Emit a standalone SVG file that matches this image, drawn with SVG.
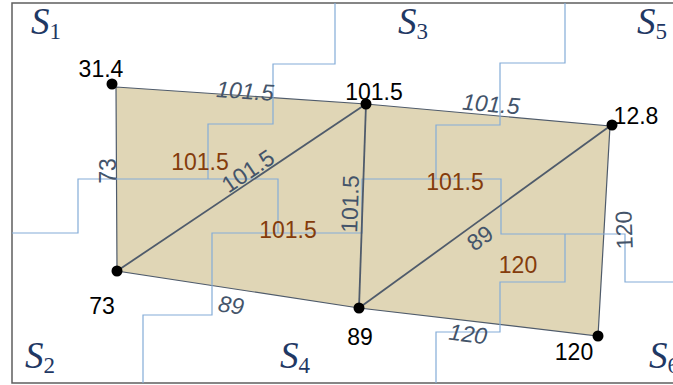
<svg xmlns="http://www.w3.org/2000/svg" width="673" height="385" viewBox="0 0 673 385">
<style>
.frame{fill:none;stroke:#5f5f5f;stroke-width:1.5}
.cell{fill:none;stroke:#84acd8;stroke-width:1.2}
.poly{fill:#e0d6b6;stroke:#4f5b6b;stroke-width:1.2}
.diag{fill:none;stroke:#4f5b6b;stroke-width:1.8}
.dot{fill:#000}
.vl{font-family:"Liberation Sans",Arial,sans-serif;font-size:23px;fill:#000;text-anchor:middle}
.el{font-family:"Liberation Sans",Arial,sans-serif;font-size:23px;fill:#44546a;text-anchor:middle}
.it{font-style:italic}
.bl{font-family:"Liberation Sans",Arial,sans-serif;font-size:23px;fill:#843c0c;text-anchor:middle}
.s{font-family:"Liberation Serif","Times New Roman",serif;font-style:italic;font-size:37px;fill:#1f3864}
.sub{font-family:"Liberation Serif","Times New Roman",serif;font-style:normal;font-size:23px;fill:#1f3864}
</style>
<rect x="0" y="0" width="673" height="385" fill="#fff"/>
<path class="frame" d="M673,3 H12 V383 H673"/>
<g id="mesh">
<polygon class="poly" points="116,87 366,104 610,126 598,336 359,308 117,271"/>
</g>
<g id="cells">
<path class="cell" d="M335,3 V64 H273 V124 H208 V179"/>
<path class="cell" d="M12,233 H78 V179 H278 V233"/>
<path class="cell" d="M143,383 V315 H212 V233 H362 V179 H501 V234 H625 V282 H673"/>
<path class="cell" d="M565,3 V63 H500 V125 H436 V179"/>
<path class="cell" d="M436,383 V332 H500 V282 H565 V234"/>
</g>
<g id="connectors">
<line class="diag" x1="117" y1="271" x2="366" y2="104"/>
<line class="diag" x1="366" y1="104" x2="359" y2="308"/>
<line class="diag" x1="359" y1="308" x2="610" y2="126"/>
</g>
<g id="node-31.4"><circle class="dot" cx="112" cy="84" r="5.5"/><text class="vl" x="101" y="77">31.4</text></g>
<g id="node-101.5"><circle class="dot" cx="366" cy="104" r="5.5"/><text class="vl" x="374" y="100">101.5</text></g>
<g id="node-12.8"><circle class="dot" cx="612" cy="125" r="5.5"/><text class="vl" x="636" y="124">12.8</text></g>
<g id="node-73"><circle class="dot" cx="117" cy="271" r="5.5"/><text class="vl" x="102" y="314">73</text></g>
<g id="node-89"><circle class="dot" cx="359" cy="308" r="5.5"/><text class="vl" x="360" y="345">89</text></g>
<g id="node-120"><circle class="dot" cx="598" cy="336" r="5.5"/><text class="vl" x="574" y="360">120</text></g>
<g id="edge-labels">
<text class="el it" transform="translate(245,91) rotate(4)" y="8">101.5</text>
<text class="el it" transform="translate(491,104) rotate(5)" y="8">101.5</text>
<text class="el it" transform="translate(231,305) rotate(8)" y="8">89</text>
<text class="el it" transform="translate(468,334) rotate(7)" y="8">120</text>
<text class="el" transform="translate(108,171) rotate(-90)" y="8">73</text>
<text class="el" transform="translate(624,230) rotate(-92)" y="8">120</text>
<text class="el" transform="translate(248,171) rotate(-34)" y="8">101.5</text>
<text class="el" transform="translate(350,204) rotate(-88)" y="8">101.5</text>
<text class="el" transform="translate(480,238) rotate(-36)" y="8">89</text>
</g>
<g id="cell-labels">
<text class="bl" x="200" y="170">101.5</text>
<text class="bl" x="288" y="238">101.5</text>
<text class="bl" x="455" y="190">101.5</text>
<text class="bl" x="518" y="273">120</text>
</g>
<g id="regions">
<text class="s" x="31" y="34">S<tspan class="sub" dy="5">1</tspan></text>
<text class="s" x="398" y="34">S<tspan class="sub" dy="5">3</tspan></text>
<text class="s" x="637" y="34">S<tspan class="sub" dy="5">5</tspan></text>
<text class="s" x="25" y="368">S<tspan class="sub" dy="5">2</tspan></text>
<text class="s" x="280" y="368">S<tspan class="sub" dy="5">4</tspan></text>
<text class="s" x="649" y="368">S<tspan class="sub" dy="5">6</tspan></text>
</g>
</svg>
